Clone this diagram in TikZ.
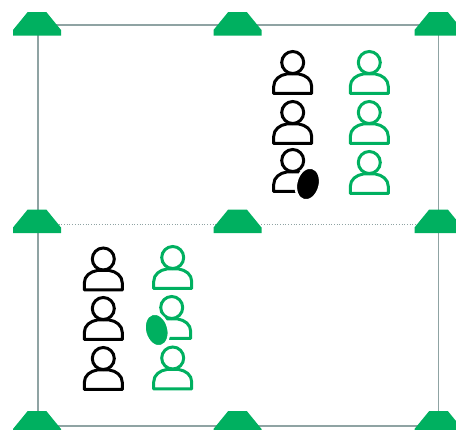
\documentclass[tikz,border=0pt]{standalone}
\usepackage{xcolor}
\usetikzlibrary{
  shapes.geometric, positioning, backgrounds
}
\definecolor{postgreen}{HTML}{00B060}
\definecolor{framegray}{HTML}{8FA3A3}
\tikzset{
  post/.style={
    rectangle, inner sep=0pt,
    minimum width=48pt, minimum height=23.5pt,
    path picture={
      \fill[postgreen, shift={(path picture bounding box.center)}]
        (-24,11.75) -- (-24,6) -- (-9.5,-11.75) -- (9.5,-11.75) -- (24,6) -- (24,11.75) -- cycle;
    }
  },
  frameline/.style={draw=framegray, line width=1.5pt},
  midline/.style={draw=framegray, line width=0.7pt, dotted},
  token/.style={
    ellipse, draw=white, line width=2.5pt,
    minimum width=23.5pt, minimum height=33.5pt, inner sep=0pt
  },
  person/.pic={
    \draw[line width=3pt, pic actions] (0,0) circle (11pt);
    \draw[line width=3pt, line join=round, pic actions]
      (-19,31) -- (-19,24) .. controls (-19,17) and (-13,12.5) .. (-6,11.5)
      -- (6,11.5) .. controls (13,12.5) and (19,17) .. (19,24) -- (19,31) -- cycle;
  }
}
\begin{document}
\begin{tikzpicture}[x=1pt, y=-1pt, on grid]
\clip (0,0) rectangle (456,430);

% Posts, row by row
\node[post] (tl) at (37,24) {};
\node[post, right=200.5pt of tl] (tm) {};
\node[post, right=201pt of tm] (tr) {};
\node[post, below=197.5pt of tl] (ml) {};
\node[post, right=200.5pt of ml] (mm) {};
\node[post, right=201pt of mm] (mr) {};
\node[post, below=201.5pt of ml] (bl) {};
\node[post, right=200.5pt of bl] (bm) {};
\node[post, right=201pt of bm] (br) {};

% Frame
\begin{scope}[on background layer]
\draw[frameline] ([xshift=1pt,yshift=-1pt]tl.center) -- ([yshift=-1pt]tm.center) -- ([yshift=-1pt]tr.center);
\draw[frameline] ([xshift=1pt]tl.center) -- ([xshift=1pt]bl.center);
\draw[frameline] (tr.center) -- (br.center);
\draw[frameline] ([xshift=1pt,yshift=-3pt]bl.center) -- ([yshift=-3pt]bm.center) -- ([yshift=-3pt]br.center);
\draw[midline] ([yshift=-2.5pt]ml.center) -- ([yshift=-2.5pt]mr.center);
\end{scope}

% Upper group
\pic[black] (upa) at (292.7,62.5) {person};
\pic[black] (upb) at (292.7,112.5) {person};
\pic[black] (upc) at (292.7,160.5) {person};
\pic[postgreen] (upd) at (369.3,62.5) {person};
\pic[postgreen] (upe) at (369.3,112.5) {person};
\pic[postgreen] (upf) at (369.3,162.5) {person};

% Lower group
\pic[black] (loa) at (103.3,259) {person};
\pic[black] (lob) at (103.3,308.5) {person};
\pic[black] (loc) at (103.3,358.5) {person};
\pic[postgreen] (lod) at (172.7,257.5) {person};
\pic[postgreen] (loe) at (171.7,307.5) {person};
\pic[postgreen] (lof) at (172.7,358) {person};

% Tokens over the people
\node[token, fill=black, rotate=-15] (tokb) at (308,184) {};
\node[token, fill=postgreen, rotate=15] (tokg) at (156.7,330) {};

\end{tikzpicture}
\end{document}
